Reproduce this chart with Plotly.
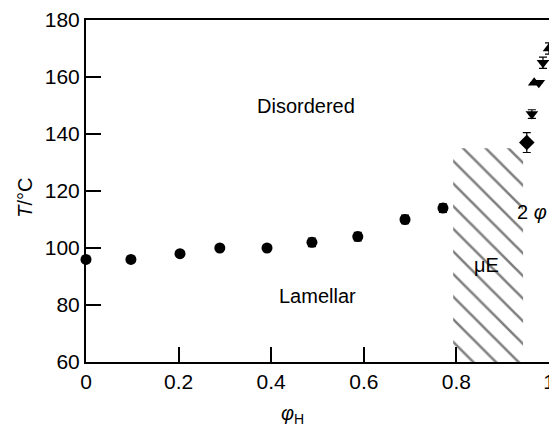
import plotly.graph_objects as go

# Lamellar-disordered transition (circles)
phi_circ = [0.0, 0.097, 0.203, 0.289, 0.391, 0.488, 0.587, 0.689, 0.771]
T_circ = [96, 96, 98, 100, 100, 102, 104, 110, 114]
err_circ = [0, 0, 0, 0, 0, 1.5, 1.5, 1.5, 1.5]

# Two-phase boundary points
phi_diam = [0.952]
T_diam = [137]
err_diam = [3.5]

phi_down = [0.963, 0.978, 0.987]
T_down = [147, 158, 165]
err_down = [1.5, 0, 2]

phi_up = [0.968, 1.0]
T_up = [158, 170]
err_up = [0, 2]

# Microemulsion hatched region
mu_phi = [0.793, 0.944, 0.944, 0.793, 0.793]
mu_T = [60, 60, 135, 135, 60]

x_ticks = [0, 0.2, 0.4, 0.6, 0.8, 1]
x_labels = ["0", "0.2", "0.4", "0.6", "0.8", "1"]
y_ticks = [60, 80, 100, 120, 140, 160, 180]

fig = go.Figure()

fig.add_trace(go.Scatter(
    x=mu_phi, y=mu_T, mode="lines", fill="toself",
    line=dict(width=0, color="rgba(0,0,0,0)"),
    fillcolor="white",
    fillpattern=dict(shape="\\", fgcolor="black", bgcolor="white", size=16, solidity=0.16),
    hoverinfo="skip", showlegend=False))

def pts(x, y, err, symbol, size):
    fig.add_trace(go.Scatter(
        x=x, y=y, mode="markers",
        marker=dict(symbol=symbol, size=size, color="black"),
        error_y=dict(type="data", array=err, visible=True, color="black", thickness=1.2, width=4),
        showlegend=False, cliponaxis=False))

pts(phi_circ, T_circ, err_circ, "circle", 11)
pts(phi_diam, T_diam, err_diam, "diamond", 12)
pts(phi_down, T_down, err_down, "triangle-down", 11)
pts(phi_up, T_up, err_up, "triangle-up", 11)

font = "Liberation Sans, Arial, sans-serif"
ann = [
    dict(x=0.475, y=150, text="Disordered"),
    dict(x=0.50, y=83, text="Lamellar"),
    dict(x=0.866, y=94, text="μE"),
    dict(x=0.963, y=112.5, text="2 <i>φ</i>"),
]
for a in ann:
    fig.add_annotation(x=a["x"], y=a["y"], text=a["text"], showarrow=False,
                       font=dict(family=font, size=20, color="black"))

# axis titles placed as annotations to match the reference positions
fig.add_annotation(xref="paper", yref="paper", x=0.447, y=0, yshift=-52,
                   text="<i>φ</i><sub>H</sub>", showarrow=False,
                   xanchor="center", yanchor="middle",
                   font=dict(family=font, size=20, color="black"))
fig.add_annotation(xref="paper", yref="paper", x=0, y=0.48, xshift=-61,
                   text="<i>T</i>/°C", showarrow=False, textangle=-90,
                   xanchor="center", yanchor="middle",
                   font=dict(family=font, size=20, color="black"))

# page body has an 8px margin; compensate so the plot lands where the reference has it
fig.update_layout(
    width=549, height=419,
    margin=dict(l=78, r=8, t=12, b=65, autoexpand=False),
    paper_bgcolor="white", plot_bgcolor="white",
    font=dict(family=font, size=21, color="black"),
    xaxis=dict(range=[0, 1], tickvals=x_ticks, ticktext=x_labels,
               ticks="inside", ticklen=15, tickwidth=1.5, tickcolor="black",
               showline=True, linecolor="black", linewidth=2, mirror=True,
               showgrid=False, zeroline=False, automargin=False),
    yaxis=dict(range=[60, 180], tickvals=y_ticks,
               ticks="inside", ticklen=15, tickwidth=1.5, tickcolor="black",
               showline=True, linecolor="black", linewidth=2, mirror=True,
               showgrid=False, zeroline=False, automargin=False),
)

fig.write_html("out.html")
